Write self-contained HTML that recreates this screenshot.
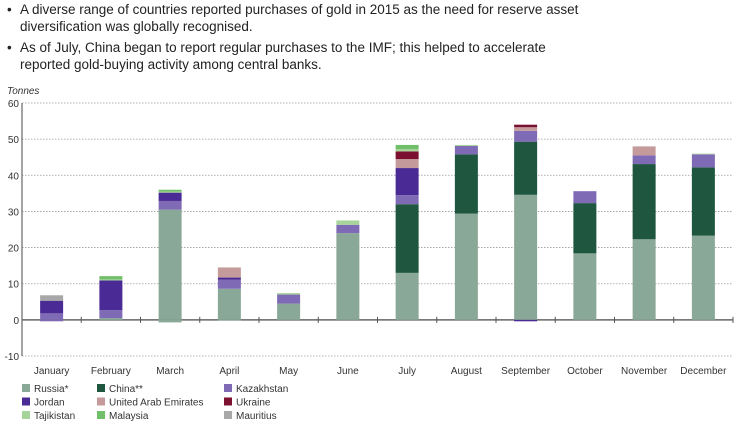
<!DOCTYPE html>
<html><head><meta charset="utf-8"><style>
body{margin:0;background:#fff;font-family:"Liberation Sans",sans-serif;}
#wrap{position:relative;width:741px;height:425px;overflow:hidden;}
.b{position:absolute;left:7px;font-size:13.5px;color:#222;line-height:17px;}
.b span{position:absolute;left:0;}
.b div{padding-left:13px;}
</style></head><body>
<div id="wrap">
<div class="b" style="top:1px"><span>•</span><div>A diverse range of countries reported purchases of gold in 2015 as the need for reserve asset<br>diversification was globally recognised.</div></div>
<div class="b" style="top:39px"><span>•</span><div>As of July, China began to report regular purchases to the IMF; this helped to accelerate<br>reported gold-buying activity among central banks.</div></div>
<svg id="chart" width="741" height="425" style="position:absolute;left:0;top:0"></svg>
</div>
<script>
const months=["January","February","March","April","May","June","July","August","September","October","November","December"];
const seriesNames=["Russia*","China**","Kazakhstan","Jordan","United Arab Emirates","Ukraine","Tajikistan","Malaysia","Mauritius"];
const russia=[0,0.5,30.5,8.6,4.5,24,13,29.4,34.6,18.4,22.3,23.3];
const russiaNeg=[0,0,-0.7,-0.2,0,0,0,0,0,0,0,0];
const china=[0,0,0,0,0,0,19,16.4,14.7,13.9,20.8,18.9];
const kazakhstan=[1.8,2.2,2.4,2.5,2.5,2.3,2.5,2.3,3,3.3,2.4,3.6];
const kazakhstanNeg=[-0.4,0,0,0,0,0,0,0,0,0,0,0];
const jordan=[3.5,8.2,2.3,0.6,0,0,7.5,0,0,0,0,0];
const jordanNeg=[0,0,0,0,0,0,0,0,-0.4,0,0,0];
const uae=[0,0,0,2.8,0,0,2.5,0,1,0,2.5,0];
const ukraine=[0,0,0,0,0,0,2.1,0,0.7,0,0,0];
const tajikistan=[0,0.3,0.3,0,0.4,1.2,0.6,0.3,0,0,0,0.2];
const malaysia=[0,0.9,0.5,0,0,0,1.2,0,0,0,0,0];
const mauritius=[1.5,0,0,0,0,0,0,0,0,0,0,0];
const yTicks=[-10,0,10,20,30,40,50,60];
const colors=["#8aa898","#1e5640","#7f6ab5","#4a2a94","#c49a9a","#7b1030","#a6d49a","#72bf6a","#a8a8a8"];
const pos=[russia,china,kazakhstan,jordan,uae,ukraine,tajikistan,malaysia,mauritius];
const neg=[russiaNeg,null,kazakhstanNeg,jordanNeg,null,null,null,null,null];
const svg=document.getElementById('chart');const NS="http://www.w3.org/2000/svg";
const x0=22,x1=733,yTop=103,yBot=356,ymin=-10,ymax=60;
const y=v=>yBot-(v-ymin)/(ymax-ymin)*(yBot-yTop);
const step=(x1-x0)/months.length;
const xc=i=>x0+step*(i+0.5);
function mk(t,a,p){const e=document.createElementNS(NS,t);for(const k in a)e.setAttribute(k,a[k]);(p||svg).appendChild(e);return e;}
let t=mk('text',{x:7,y:94,'font-size':10,'font-style':'italic',fill:'#333'});t.textContent='Tonnes';


yTicks.forEach(v=>{
 const g=mk('line',{x1:x0,x2:x1,y1:y(v),y2:y(v),stroke:v===0?'#666':'#999','stroke-width':v===0?1.5:0.8,'stroke-dasharray':v===0?'':'1.5,1.5'});
 
 
 const l=mk('text',{x:19,y:y(v)+4,'font-size':10,'text-anchor':'end',fill:'#333'});l.textContent=v;
 
 
});
mk('line',{x1:x0,x2:x0,y1:yTop,y2:yBot,stroke:'#666','stroke-width':1.2});
for(let i=1;i<=months.length;i++){mk('line',{x1:x0+step*i,x2:x0+step*i,y1:y(0)-3,y2:y(0)+3,stroke:'#555','stroke-width':1});}
const bw=23;
months.forEach((m,i)=>{
 let top=0,bot=0;
 pos.forEach((s,k)=>{const v=s[i];if(v>0){const r=mk('rect',{x:xc(i)-bw/2,y:y(top+v),width:bw,height:y(top)-y(top+v),fill:colors[k]});
  
  top+=v;}});
 neg.forEach((s,k)=>{if(!s)return;const v=s[i];if(v<0){const r=mk('rect',{x:xc(i)-bw/2,y:y(bot),width:bw,height:y(bot+v)-y(bot),fill:colors[k]});
  
  bot+=v;}});
 const l=mk('text',{x:xc(i),y:374,'font-size':10,'text-anchor':'middle',fill:'#333'});l.textContent=m;
 
 
});
const lx=[22,97,224];
seriesNames.forEach((n,k)=>{
 const pos2=[k%3,Math.floor(k/3)];
 const gx=lx[pos2[0]],gy=384+pos2[1]*13.5;
 const sw=mk('rect',{x:gx,y:gy,width:8,height:8,fill:colors[k]});
 
 
 const tx=mk('text',{x:gx+12,y:gy+8,'font-size':10,fill:'#333'});tx.textContent=n;
 
 
});
</script>
</body></html>
